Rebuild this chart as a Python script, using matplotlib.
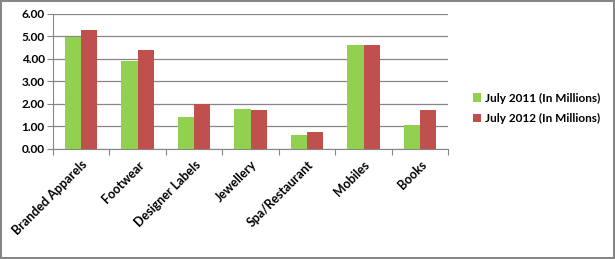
import numpy as np
import matplotlib.pyplot as plt

categories = ["Branded Apparels", "Footwear", "Designer Labels", "Jewellery",
              "Spa/Restaurant", "Mobiles", "Books"]
july_2011 = [4.97, 3.93, 1.40, 1.79, 0.63, 4.60, 1.07]
july_2012 = [5.27, 4.42, 2.01, 1.74, 0.76, 4.64, 1.71]
series_names = ["July 2011 (In Millions)", "July 2012 (In Millions)"]

plt.rcParams["font.family"] = ["Lato", "DejaVu Sans"]
plt.rcParams["font.weight"] = "bold"

fig = plt.figure(figsize=(6.15, 2.59), dpi=100)
fig.patch.set_edgecolor("#868686")
fig.patch.set_linewidth(1.5)
ax = fig.add_axes([0.086, 0.425, 0.643, 0.521])

x = np.arange(len(categories))
w = 0.286
ax.bar(x - w / 2, july_2011, w, color="#92D050", label=series_names[0], zorder=3)
ax.bar(x + w / 2, july_2012, w, color="#C0504D", label=series_names[1], zorder=3)

ax.set_xlim(-0.5, len(categories) - 0.5)
ax.set_ylim(0, 6)
ax.set_yticks(np.arange(0, 7, 1))
ax.set_yticklabels([f"{v:.2f}" for v in np.arange(0, 7, 1)], fontsize=8.5,
                   fontweight="bold")
ax.yaxis.grid(True, color="#868686", linewidth=0.9, zorder=0)
ax.set_axisbelow(True)

ax.set_xticks(np.arange(-0.5, len(categories), 1))
ax.set_xticklabels([])
ax.set_xticks(x, minor=True)
ax.set_xticklabels(categories, minor=True, rotation=45, ha="right",
                   rotation_mode="anchor", fontsize=9, fontweight="bold")
ax.tick_params(axis="x", which="minor", length=0, pad=7)
ax.tick_params(axis="x", which="major", length=4, color="#868686")
ax.tick_params(axis="y", length=4, color="#868686", pad=2)

for s in ["top", "right"]:
    ax.spines[s].set_visible(False)
for s in ["left", "bottom"]:
    ax.spines[s].set_color("#868686")

ax.legend(loc="center left", bbox_to_anchor=(1.035, 0.3), frameon=False,
          handlelength=0.7, handleheight=0.7, handletextpad=0.3,
          labelspacing=0.8, prop={"weight": "bold", "size": 8.5})

fig.savefig("out.png", dpi=100)
